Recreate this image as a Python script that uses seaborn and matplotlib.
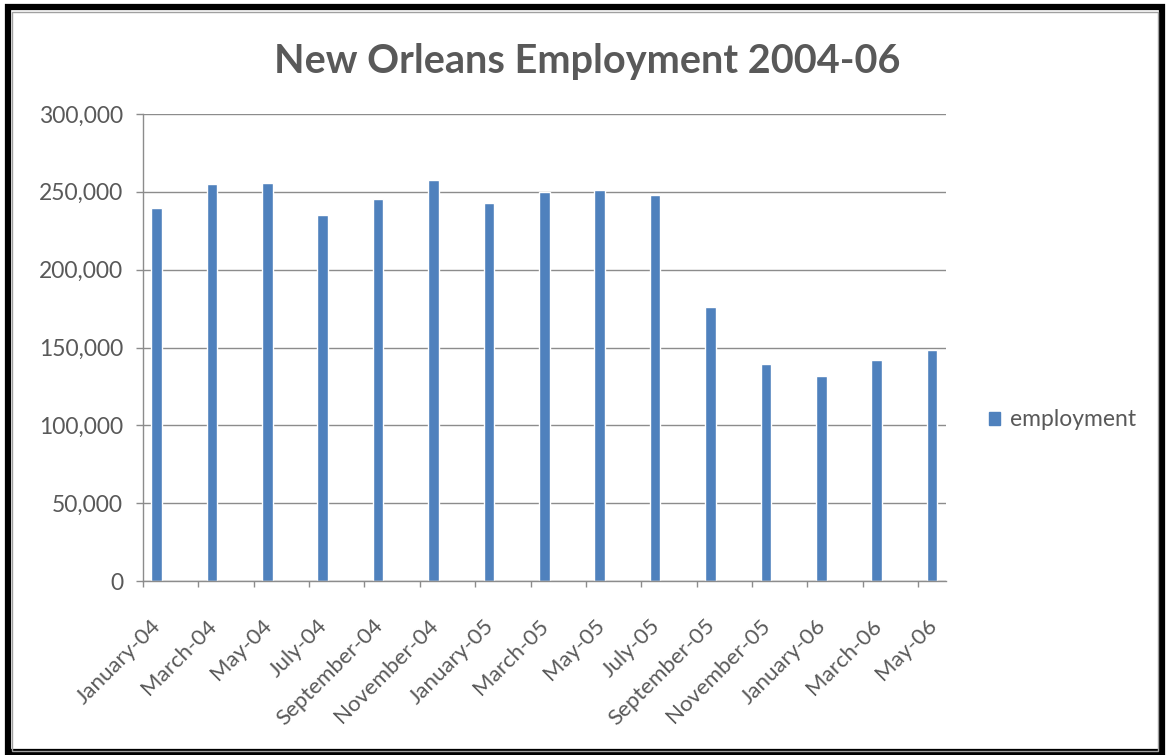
import matplotlib
matplotlib.use("Agg")
import matplotlib.pyplot as plt
import matplotlib.patches as mpatches
from matplotlib.ticker import FuncFormatter, FixedLocator
import seaborn as sns
import pandas as pd

months = ["January-04", "March-04", "May-04", "July-04", "September-04", "November-04",
          "January-05", "March-05", "May-05", "July-05", "September-05", "November-05",
          "January-06", "March-06", "May-06"]
employment = [239700, 255000, 255600, 235200, 245700, 257700,
              242800, 249800, 251100, 248100, 175900, 139600,
              132000, 141800, 148300]
series_name = "employment"
title = "New Orleans Employment 2004-06"
yticks = [0, 50000, 100000, 150000, 200000, 250000, 300000]

# date axis (monthly base unit), as in the original spreadsheet chart
dates = pd.to_datetime(months, format="%B-%y")
month_idx = (dates.year - dates.year[0]) * 12 + (dates.month - dates.month[0])
df = pd.DataFrame({"m": month_idx, series_name: employment})

sns.set_style("white")
plt.rcParams["font.family"] = ["Lato", "DejaVu Sans"]

fig = plt.figure(figsize=(11.68, 7.55), dpi=100)
ax = fig.add_axes([142.7/1168, 1-581/755, (946-142.7)/1168, (581-114)/755])

bar_color = "#4F81BD"
sns.barplot(data=df, x="m", y=series_name, color=bar_color, width=0.19,
            native_scale=True, ax=ax, saturation=1)

text_col = "#595959"
grid_col = "#8C8C8C"
n_slots = int(month_idx.max()) + 1
ax.set_ylim(0, 300000)
ax.set_xlim(-0.5, n_slots - 0.5)
ax.set_yticks(yticks)
ax.yaxis.set_major_formatter(FuncFormatter(lambda v, p: f"{int(v):,}"))
ax.yaxis.grid(True, color=grid_col, lw=1)
ax.set_axisbelow(True)
ax.set_xlabel("")
ax.set_ylabel("")

for s in ["top", "right"]:
    ax.spines[s].set_visible(False)
for s in ["left", "bottom"]:
    ax.spines[s].set_color(grid_col)
    ax.spines[s].set_linewidth(1)

ax.set_xticks(list(month_idx))
ax.set_xticklabels(months)
ax.tick_params(axis="y", which="major", left=True, length=5, width=1, color=grid_col, labelsize=16.5,
               labelcolor=text_col, direction="out", pad=9)
ax.tick_params(axis="x", which="major", bottom=True, length=0, labelsize=16, labelcolor=text_col, pad=29)
ax.xaxis.set_minor_locator(FixedLocator([m - 0.5 for m in month_idx]))
ax.tick_params(axis="x", which="minor", bottom=True, length=4.5, width=1, color=grid_col, direction="out")
for lab in ax.get_xticklabels():
    lab.set_rotation(45)
    lab.set_ha("right")
    lab.set_va("center_baseline")
    lab.set_rotation_mode("anchor")

handle = mpatches.Patch(color=bar_color, label=series_name)
fig.legend(handles=[handle], loc="center left", bbox_to_anchor=(968/1168, 1-420/755),
           frameon=False, fontsize=16.5, handlelength=0.5, handleheight=0.5,
           handletextpad=0.45, labelcolor=text_col)

fig.text(0.503, 1-61/755, title, ha="center", va="center", fontsize=28.5,
         fontweight="bold", color=text_col)

# chart frame
fig.patches.append(mpatches.Rectangle((8/1168, 3/755), 1154/1168, 745/755,
                                      transform=fig.transFigure, fill=False,
                                      edgecolor="black", lw=4.5))
fig.patches.append(mpatches.Rectangle((12/1168, 4/755), 1146/1168, 739/755,
                                      transform=fig.transFigure, fill=False,
                                      edgecolor="#A0A0A0", lw=1))

fig.savefig("out.png", dpi=100)
